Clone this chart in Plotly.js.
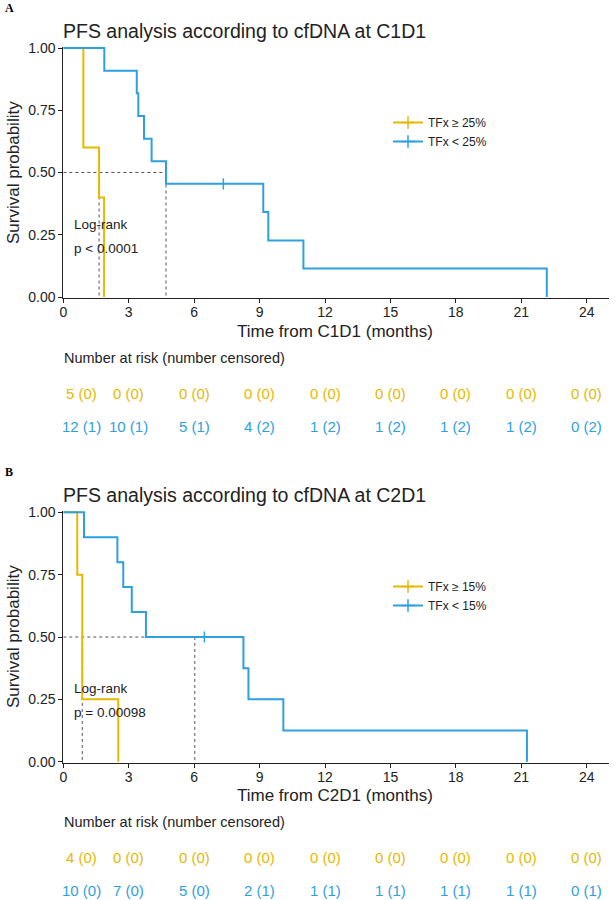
<!DOCTYPE html>
<html><head><meta charset="utf-8">
<script src="https://cdn.plot.ly/plotly-3.0.1.min.js"></script>
<style>html,body{margin:0;padding:0;background:#fff}#chart{width:616px;height:900px}</style>
</head><body><div id="chart"></div>
<script>
// ---------- DATA ----------
const colHigh = '#E7B800';
const colLow = '#2E9FDF';

// Panel A : cfDNA at C1D1
const A_title = 'PFS analysis according to cfDNA at C1D1';
const A_xTitle = 'Time from C1D1 (months)';
const A_labels = ['TFx ≥ 25%', 'TFx < 25%'];
const A_highTime = [0, 0.92, 1.64, 1.87];
const A_highSurv = [1, 0.6, 0.4, 0];
const A_lowTime = [0, 1.88, 3.37, 3.44, 3.70, 4.05, 4.71, 9.17, 9.40, 11.01, 22.17];
const A_lowSurv = [1, 0.909, 0.818, 0.727, 0.636, 0.545, 0.4545, 0.341, 0.227, 0.114, 0];
const A_censTime = [7.34];
const A_censSurv = [0.4545];
const A_medians = [1.64, 4.71];
const A_pValue = 'p < 0.0001';
const A_riskHigh = [5, 0, 0, 0, 0, 0, 0, 0, 0];
const A_censHigh = [0, 0, 0, 0, 0, 0, 0, 0, 0];
const A_riskLow = [12, 10, 5, 4, 1, 1, 1, 1, 0];
const A_censLow = [1, 1, 1, 2, 2, 2, 2, 2, 2];

// Panel B : cfDNA at C2D1
const B_title = 'PFS analysis according to cfDNA at C2D1';
const B_xTitle = 'Time from C2D1 (months)';
const B_labels = ['TFx ≥ 15%', 'TFx < 15%'];
const B_highTime = [0, 0.64, 0.87, 2.52];
const B_highSurv = [1, 0.75, 0.25, 0];
const B_lowTime = [0, 0.95, 2.48, 2.75, 3.14, 3.79, 8.26, 8.49, 10.09, 21.26];
const B_lowSurv = [1, 0.9, 0.8, 0.7, 0.6, 0.5, 0.375, 0.25, 0.125, 0];
const B_censTime = [6.47];
const B_censSurv = [0.5];
const B_medians = [0.87, 6.03];
const B_pValue = 'p = 0.00098';
const B_riskHigh = [4, 0, 0, 0, 0, 0, 0, 0, 0];
const B_censHigh = [0, 0, 0, 0, 0, 0, 0, 0, 0];
const B_riskLow = [10, 7, 5, 2, 1, 1, 1, 1, 0];
const B_censLow = [0, 0, 0, 1, 1, 1, 1, 1, 1];

const riskTimes = [0, 3, 6, 9, 12, 15, 18, 21, 24];
const yTicks = [0, 0.25, 0.5, 0.75, 1];

// ---------- BUILD ----------
const FONT = 'Liberation Sans, Arial, Helvetica, sans-serif';
const W = 616, H = 900;
const px = p => p / W;
const py = p => 1 - p / H;

function panelTraces(xa, ya, leg, hT, hS, lT, lS, cT, cS, meds, labels) {
  const mx = Math.max(...meds);
  const mX = [0, mx, null], mY = [0.5, 0.5, null];
  meds.forEach(m => { mX.push(m, m, null); mY.push(0.5, 0, null); });
  const tr = [];
  tr.push({x: mX, y: mY, xaxis: xa, yaxis: ya, mode: 'lines', showlegend: false,
    line: {color: '#555', width: 1, dash: '3px,3px'}, hoverinfo: 'skip'});
  tr.push({x: hT, y: hS, xaxis: xa, yaxis: ya, mode: 'lines', line: {shape: 'hv', color: colHigh, width: 2}, showlegend: false});
  tr.push({x: lT, y: lS, xaxis: xa, yaxis: ya, mode: 'lines', line: {shape: 'hv', color: colLow, width: 2}, showlegend: false});
  tr.push({x: cT, y: cS, xaxis: xa, yaxis: ya, mode: 'markers', showlegend: false,
    marker: {symbol: 'line-ns-open', size: 8, color: colLow, line: {color: colLow, width: 1.5}}});
  [[labels[0], colHigh], [labels[1], colLow]].forEach(([name, c]) => {
    tr.push({x: [null], y: [null], xaxis: xa, yaxis: ya, name: name, legend: leg, mode: 'lines+markers',
      line: {color: c, width: 2}, marker: {symbol: 'cross-thin-open', size: 9, color: c, line: {color: c, width: 1.5}}});
  });
  return tr;
}

const traces = [].concat(
  panelTraces('x', 'y', 'legend', A_highTime, A_highSurv, A_lowTime, A_lowSurv, A_censTime, A_censSurv, A_medians, A_labels),
  panelTraces('x2', 'y2', 'legend2', B_highTime, B_highSurv, B_lowTime, B_lowSurv, B_censTime, B_censSurv, B_medians, B_labels)
);

function ann(text, x, y, opts) {
  return Object.assign({text: text, x: x, y: y, xref: 'paper', yref: 'paper', showarrow: false,
    xanchor: 'left', yanchor: 'middle', font: {family: FONT, size: 14, color: '#222'}}, opts || {});
}

function panelAnns(letter, off, title, xTitle, pValue, xref, riskHi, censHi, riskLo, censLo) {
  const a = [];
  a.push(ann('<b>' + letter + '</b>', px(3), py(off + 8), {font: {family: 'Liberation Serif, Times New Roman, serif', size: 12, color: '#000'}}));
  a.push(ann(title, px(61), py(off + 31), {font: {family: FONT, size: 19.5, color: '#222'}}));
  a.push(ann('Log-rank', px(72), py(off + 224), {font: {family: FONT, size: 13.5, color: '#222'}}));
  a.push(ann(pValue, px(72), py(off + 248), {font: {family: FONT, size: 13.5, color: '#222'}}));
  a.push(ann(xTitle, px(335.5), py(off + 331), {xanchor: 'center', font: {family: FONT, size: 17, color: '#222'}}));
  a.push(ann('Survival probability', px(13.5), py(off + 172.5), {xanchor: 'center', textangle: -90, font: {family: FONT, size: 17, color: '#222'}}));
  a.push(ann('Number at risk (number censored)', px(62), py(off + 358), {font: {family: FONT, size: 14.5, color: '#222'}}));
  riskTimes.forEach((t, i) => {
    const sh = i === 0 ? 18.5 : 0;
    a.push({text: riskHi[i] + ' (' + censHi[i] + ')', x: t, xref: xref, y: py(off + 393), yref: 'paper', showarrow: false,
      xanchor: 'center', yanchor: 'middle', xshift: sh, font: {family: FONT, size: 15, color: colHigh}});
    a.push({text: riskLo[i] + ' (' + censLo[i] + ')', x: t, xref: xref, y: py(off + 426), yref: 'paper', showarrow: false,
      xanchor: 'center', yanchor: 'middle', xshift: sh, font: {family: FONT, size: 15, color: colLow}});
  });
  return a;
}

const annotations = [].concat(
  panelAnns('A', 0, A_title, A_xTitle, A_pValue, 'x', A_riskHigh, A_censHigh, A_riskLow, A_censLow),
  panelAnns('B', 464, B_title, B_xTitle, B_pValue, 'x2', B_riskHigh, B_censHigh, B_riskLow, B_censLow)
);

function xAxis(anchor) {
  return {domain: [px(63.3), px(608.5)], range: [0, 25], anchor: anchor, tickvals: riskTimes,
    ticks: 'outside', ticklen: 4, tickwidth: 1, tickcolor: '#222', showline: true, linecolor: '#222', linewidth: 1,
    ticklabelstandoff: -3,
    showgrid: false, zeroline: false, tickfont: {family: FONT, size: 14, color: '#222'}, fixedrange: true};
}
function yAxis(anchor, top, bottom) {
  return {domain: [py(bottom + 1.25), py(top - 1.25)], range: [-0.005, 1.005], anchor: anchor, tickvals: yTicks, tickformat: '.2f',
    ticks: 'outside', ticklen: 4, tickwidth: 1, tickcolor: '#222', showline: true, linecolor: '#222', linewidth: 1,
    showgrid: false, zeroline: false, tickfont: {family: FONT, size: 14, color: '#222'}, fixedrange: true};
}
function legend(topPix) {
  return {x: px(388), y: py(topPix), xanchor: 'left', yanchor: 'top', bgcolor: 'rgba(0,0,0,0)',
    font: {family: FONT, size: 12, color: '#222'}, tracegroupgap: 0, itemclick: false};
}

const layout = {
  width: W, height: H, margin: {l: 0, r: 0, t: 0, b: 0},
  paper_bgcolor: '#fff', plot_bgcolor: '#fff', showlegend: true, hovermode: false,
  font: {family: FONT},
  xaxis: xAxis('y'), yaxis: yAxis('x', 48, 297),
  xaxis2: xAxis('y2'), yaxis2: yAxis('x2', 512.3, 761.7),
  legend: legend(108), legend2: legend(572),
  annotations: annotations
};

Plotly.newPlot('chart', traces, layout, {displayModeBar: false, staticPlot: true});
</script>
</body></html>
